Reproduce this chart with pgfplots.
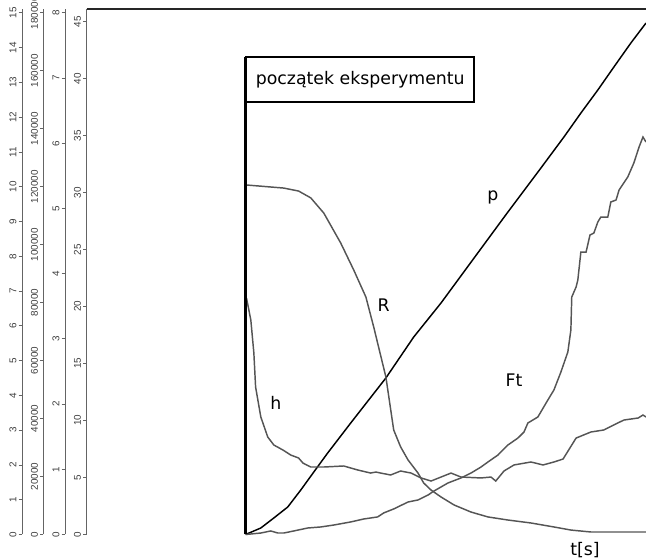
\documentclass[border=0pt]{standalone}
\usepackage{pgfplots}
\pgfplotsset{compat=1.18}
\usepackage{fontspec}
\setmainfont{Liberation Sans}
\newfontfamily\dejavu{DejaVu Sans}
\definecolor{curvegray}{RGB}{85,85,85}
\definecolor{axisgray}{RGB}{100,100,100}
\definecolor{labgray}{RGB}{60,60,60}
\pgfplotsset{
  sideaxis/.style={
    scale only axis, width=2pt, height=394.125pt, anchor=south west,
    xmin=0, xmax=1, axis x line=none, axis y line*=left,
    y axis line style={axisgray, line width=0.75pt, -},
    ytick align=outside, major tick length=2.5pt,
    every tick/.style={axisgray, line width=0.6pt},
    yticklabel style={rotate=90, anchor=south, font=\fontsize{7.4}{8}\selectfont, text=labgray, inner sep=1.5pt},
    /pgf/number format/assume math mode=true,
    /pgf/number format/fixed,
    /pgf/number format/1000 sep={},
    scaled y ticks=false,
  }
}
\begin{document}
\begin{tikzpicture}
\useasboundingbox (0,0) rectangle (484.5pt,419.25pt);
% axis 1: 0..15
\begin{axis}[sideaxis, at={(16.5pt,18.375pt)}, ymin=0, ymax=15.11, ytick={0,1,...,15}]
\addplot[draw=none] coordinates {(0,0)};
\end{axis}
% axis 2: 0..180000
\begin{axis}[sideaxis, at={(32.6pt,18.375pt)}, ymin=0, ymax=181330,
  ytick={0,20000,40000,60000,80000,100000,120000,140000,160000,180000},
  yticklabels={0,20000,40000,60000,80000,100000,120000,140000,160000,180000}]
\addplot[draw=none] coordinates {(0,0)};
\end{axis}
% axis 3: 0..8
\begin{axis}[sideaxis, at={(48.75pt,18.375pt)}, ymin=0, ymax=8.06, ytick={0,1,...,8}]
\addplot[draw=none] coordinates {(0,0)};
\end{axis}
% main axis
\begin{axis}[sideaxis, at={(65pt,18.375pt)}, width=419.5pt, height=394.125pt,
  xmin=0, xmax=1288, ymin=0, ymax=46.1, clip=false,
  axis x line*=bottom, x axis line style={axisgray, line width=0.75pt, -},
  xtick={500,1000}, xticklabels={500,1000}, xtick align=outside,
  xticklabel style={font=\fontsize{7.4}{8}\selectfont, text=labgray, yshift=-1.5pt},
  ytick={0,5,...,45}]
\draw[black!85, line width=0.8pt] (axis cs:0,46.1) -- (axis cs:1288,46.1);
% p
\addplot[black, line width=1.1pt] coordinates {
(366,0) (401,0.57) (431,1.45) (463,2.41) (493,3.90) (523,5.48) (555,7.15) (578,8.29)
(608,9.78) (689,13.73) (753,17.32) (816,20.31) (892,24.25) (970,28.29) (1046,32.15)
(1099,34.87) (1138,36.97) (1177,38.99) (1214,41.01) (1253,43.11) (1288,44.87)};
% R
\addplot[curvegray, line width=1.1pt] coordinates {
(368,30.66) (454,30.39) (488,30.13) (516,29.53) (546,28.20) (585,25.57) (615,23.20) (643,20.83)
(661,18.20) (689,13.82) (707,9.17) (723,7.68) (740,6.54) (763,5.39) (776,4.52)
(793,3.90) (816,3.29) (846,2.59) (885,1.97) (924,1.54) (970,1.27) (1023,1.01)
(1076,0.66) (1115,0.39) (1161,0.22) (1288,0.22)};
% h
\addplot[curvegray, line width=1.1pt] coordinates {
(368,20.75) (378,18.82) (385,15.92) (389,12.94) (401,10.31) (417,8.55) (431,7.85)
(452,7.41) (470,6.97) (488,6.71) (498,6.27) (516,5.92) (546,5.92) (592,6.01)
(624,5.66) (654,5.39) (666,5.48) (677,5.39) (700,5.22) (723,5.57) (747,5.39)
(770,4.96) (793,4.69) (816,5.04) (839,5.39) (862,5.04) (908,4.96) (931,5.04)
(942,4.69) (961,5.57) (984,6.10) (1023,6.36) (1051,6.10) (1076,6.36) (1097,6.62)
(1127,8.46) (1161,8.99) (1191,9.17) (1223,9.78) (1237,10.04) (1270,10.22)
(1281,10.48) (1288,10.31)};
% Ft
\addplot[curvegray, line width=1.1pt] coordinates {
(366,0) (401,0.13) (424,0.31) (440,0.13) (454,0.13) (477,0.31) (509,0.57) (539,0.66)
(569,0.83) (608,1.10) (638,1.36) (670,1.54) (684,1.89) (707,2.24) (740,2.85)
(763,3.03) (786,3.46) (800,3.82) (832,4.52) (862,4.96) (885,5.39) (908,5.92)
(924,6.36) (947,6.97) (970,7.85) (993,8.46) (1007,8.99) (1016,9.78) (1039,10.31)
(1062,11.80) (1076,12.68) (1092,14.25) (1108,16.01) (1115,17.94) (1117,20.83)
(1127,21.71) (1131,22.32) (1138,24.78) (1150,24.78) (1159,26.27) (1168,26.45)
(1177,27.41) (1184,27.85) (1200,27.85) (1207,29.17) (1219,29.34) (1226,30.22)
(1246,31.36) (1260,32.59) (1272,33.99) (1281,34.87) (1288,34.43)};
% start of experiment marker
\draw[black, line width=2pt] (axis cs:366,0) -- (axis cs:366,41.89);
\draw[black, line width=1.5pt] (axis cs:366,41.89) rectangle (axis cs:891.7,37.94);
\node[font=\dejavu\fontsize{13}{15}\selectfont] at (axis cs:630,39.9) {początek eksperymentu};
\node[font=\dejavu\fontsize{13}{15}\selectfont] at (axis cs:935.5,29.6) {p};
\node[font=\dejavu\fontsize{13}{15}\selectfont] at (axis cs:684,20.13) {R};
\node[font=\dejavu\fontsize{13}{15}\selectfont] at (axis cs:435.5,11.54) {h};
\node[font=\dejavu\fontsize{13}{15}\selectfont] at (axis cs:984,13.55) {Ft};
\node[font=\dejavu\fontsize{13}{15}\selectfont] at (axis cs:1147.7,-1.36) {t[s]};
\end{axis}
\end{tikzpicture}
\end{document}
